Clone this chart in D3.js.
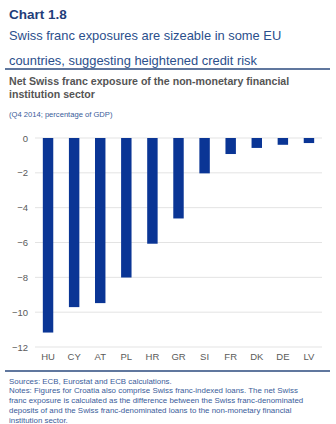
<!DOCTYPE html>
<html>
<head>
<meta charset="utf-8">
<script src="https://cdn.jsdelivr.net/npm/d3@7"></script>
<style>
  body { margin: 0; background: #fff; }
  svg { font-family: Arial, "Liberation Sans", sans-serif; }
</style>
</head>
<body>
<div id="chart"></div>
<script>
// data
const countries = ["HU", "CY", "AT", "PL", "HR", "GR", "SI", "FR", "DK", "DE", "LV"];
const exposure = [-11.17, -9.71, -9.48, -8.01, -6.07, -4.62, -2.03, -0.92, -0.57, -0.39, -0.29];
const yTicks = [0, -2, -4, -6, -8, -10, -12];

const titleLines = ["Swiss franc exposures are sizeable in some EU", "countries, suggesting heightened credit risk"];
const subLines = ["Net Swiss franc exposure of the non-monetary financial", "institution sector"];
const noteLines = [
  "Sources: ECB, Eurostat and ECB calculations.",
  "Notes: Figures for Croatia also comprise Swiss franc-indexed loans. The net Swiss",
  "franc exposure is calculated as the difference between the Swiss franc-denominated",
  "deposits of and the Swiss franc-denominated loans to the non-monetary financial",
  "institution sector."
];

const W = 336, H = 424;
const margin = {top: 138, right: 14, bottom: 77, left: 35};

const svg = d3.select("#chart").append("svg")
  .attr("width", W)
  .attr("height", H);

// header
svg.append("text")
  .attr("x", 9).attr("y", 19)
  .attr("font-size", 13.5).attr("font-weight", "bold")
  .attr("fill", "#1f3d7a")
  .text("Chart 1.8");

svg.selectAll("text.title")
  .data(titleLines)
  .enter().append("text")
  .attr("class", "title")
  .attr("x", 9).attr("y", (d, i) => 40 + i * 25)
  .attr("font-size", 12.9)
  .attr("fill", "#2b4f8c")
  .text(d => d);

svg.append("line")
  .attr("x1", 5).attr("x2", 330)
  .attr("y1", 69).attr("y2", 69)
  .attr("stroke", "#2b4a7e").attr("stroke-width", 1.5);

svg.selectAll("text.sub")
  .data(subLines)
  .enter().append("text")
  .attr("class", "sub")
  .attr("x", 9).attr("y", (d, i) => 85 + i * 13)
  .attr("font-size", 10.6).attr("font-weight", "bold")
  .attr("fill", "#555")
  .text(d => d);

svg.append("text")
  .attr("x", 9).attr("y", 117)
  .attr("font-size", 7.6)
  .attr("fill", "#3a5c9a")
  .text("(Q4 2014; percentage of GDP)");

// scales
var x = d3.scaleBand()
  .domain(countries)
  .range([margin.left, W - margin.right])
  .paddingInner(0.6)
  .paddingOuter(0.3);

var y = d3.scaleLinear()
  .domain([0, -12])
  .range([margin.top, 347]);

// gridlines
svg.append("g")
  .selectAll("line")
  .data(yTicks)
  .enter().append("line")
  .attr("x1", margin.left).attr("x2", W - margin.right)
  .attr("y1", d => y(d)).attr("y2", d => y(d))
  .attr("stroke", "#e3e3e3").attr("stroke-width", 1);

// left axis (labels only)
var axisLeft = d3.axisLeft(y).tickValues(yTicks).tickSize(0).tickPadding(7);
var gy = svg.append("g")
  .attr("transform", "translate(" + margin.left + ",0)")
  .call(axisLeft);
gy.select(".domain").remove();
gy.selectAll("text").attr("fill", "#5a5a5a").attr("font-size", 9.5)
  .attr("font-family", "Arial, 'Liberation Sans', sans-serif");

// bars
svg.selectAll("rect.bar")
  .data(countries)
  .enter().append("rect")
  .attr("class", "bar")
  .attr("x", d => x(d))
  .attr("width", x.bandwidth())
  .attr("y", y(0))
  .attr("height", (d, i) => y(exposure[i]) - y(0))
  .attr("fill", "#0a3595");

// bottom axis
var axisBottom = d3.axisBottom(x).tickSize(0).tickPadding(6);
var gx = svg.append("g")
  .attr("transform", "translate(0," + y(-12) + ")")
  .call(axisBottom);
gx.select(".domain").remove();
gx.selectAll("text").attr("fill", "#5a5a5a").attr("font-size", 9.5)
  .attr("font-family", "Arial, 'Liberation Sans', sans-serif");

// footer
svg.append("line")
  .attr("x1", 5).attr("x2", 330)
  .attr("y1", 371).attr("y2", 371)
  .attr("stroke", "#2b4a7e").attr("stroke-width", 1.5);

svg.selectAll("text.note")
  .data(noteLines)
  .enter().append("text")
  .attr("class", "note")
  .attr("x", 9).attr("y", (d, i) => 383.5 + i * 9.8)
  .attr("font-size", 7.9)
  .attr("fill", "#3a5c9a")
  .text(d => d);
</script>
</body>
</html>
